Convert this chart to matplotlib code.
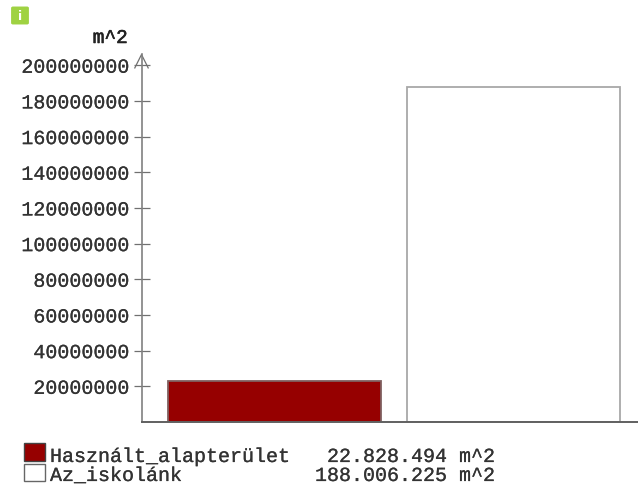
import matplotlib
matplotlib.use("Agg")
import matplotlib.pyplot as plt
import matplotlib.patheffects as pe
from matplotlib.patches import FancyBboxPatch, Rectangle

# data
categories = ["Használt_alapterület", "Az_iskolánk"]
values = [22828494, 188006225]
colors = ["#960000", "#ffffff"]
edges = ["#806060", "#a8a8a8"]
yticks = list(range(20000000, 200000001, 20000000))
unit = "m^2"

W, H = 638, 489
plt.rcParams["font.family"] = ["Liberation Mono", "DejaVu Sans Mono"]
heavy = [pe.withStroke(linewidth=0.15, foreground="#333333")]

fig = plt.figure(figsize=(W / 100, H / 100), dpi=100)
ax = fig.add_axes([141.5 / W, (H - 423) / H, (W - 141.5) / W, 368 / H])


def fx(px):
    return px / W


def fy(py):
    return 1 - py / H


ax.bar(range(len(values)), values, width=0.891, color=colors, edgecolor=edges, linewidth=1.3)
ax.set_xlim(-0.556, 1.521)
ax.set_ylim(0, 206300000)

for side in ["top", "right"]:
    ax.spines[side].set_visible(False)
ax.spines["left"].set_color("#808080")
ax.spines["left"].set_linewidth(1.2)
ax.spines["bottom"].set_color("#606060")
ax.spines["bottom"].set_linewidth(1.4)

ax.set_xticks([])
ax.set_yticks(yticks)
ax.set_yticklabels([str(t) for t in yticks], fontsize=14.4, color="#333333",
                   va="center_baseline", path_effects=heavy)
ax.tick_params(axis="y", direction="inout", length=11.5, width=0.9, color="#707070", pad=3)

# arrow on top of the y axis
ax.plot([-0.556 - 0.028, -0.556, -0.556 + 0.028], [198500000, 206000000, 198500000],
        color="#707070", lw=0.9, clip_on=False)

fig.text(fx(128), fy(44), unit, ha="right", va="baseline", fontsize=14, color="#222222",
         path_effects=[pe.withStroke(linewidth=0.4, foreground="#222222")])

# small info badge
fig.add_artist(FancyBboxPatch((fx(13), fy(24)), 14 / W, 15 / H,
                              boxstyle="round,pad=0.003", transform=fig.transFigure,
                              facecolor="#9fd242", edgecolor="none"))
fig.text(fx(20), fy(16.5), "i", ha="center", va="center", fontsize=9, color="white",
         fontweight="bold", family="DejaVu Sans")

# legend
legend_rows = [(444, 462, 463), (465, 482, 482)]
for name, val, col, edge, (top, bottom, base) in zip(categories, values, colors, ["#444444", "#666666"], legend_rows):
    fig.add_artist(Rectangle((fx(24), fy(bottom)), 21 / W, (bottom - top) / H,
                             transform=fig.transFigure, facecolor=col, edgecolor=edge, linewidth=1.0))
    fig.text(fx(50), fy(base), name, ha="left", va="baseline", fontsize=14.4, color="#333333",
             path_effects=heavy)
    fig.text(fx(495), fy(base), f"{val:,}".replace(",", ".") + " " + unit,
             ha="right", va="baseline", fontsize=14.4, color="#333333", path_effects=heavy)

fig.savefig("out.png", dpi=100)
